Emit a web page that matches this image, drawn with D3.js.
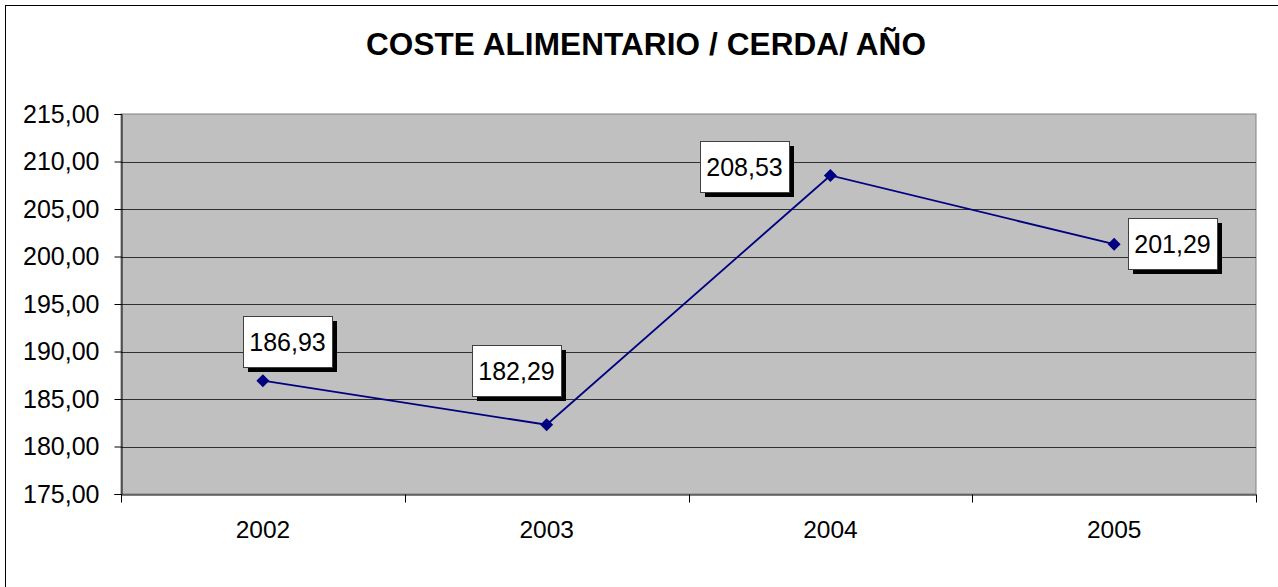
<!DOCTYPE html>
<html lang="es">
<head>
    <meta charset="UTF-8">
    <title>Coste alimentario / cerda / año</title>
    <script src="https://d3js.org/d3.v7.min.js"></script>
    <style>
        body { margin: 0; background: #fff; }
        svg { display: block; font-family: Arial, "Liberation Sans", sans-serif; }
    </style>
</head>
<body>
    <div id="chart"></div>
    <script>
        // Data
        const years = ["2002", "2003", "2004", "2005"];
        const costs = [186.93, 182.29, 208.53, 201.29];
        const yTicks = [175, 180, 185, 190, 195, 200, 205, 210, 215];

        // manual label placement (offset of box centre from point)
        const labelOffsets = [[25, -39], [-30, -54], [-86, -9], [58, -1]];

        const width = 1278, height = 587;
        const plot = { left: 121, top: 114, right: 1256, bottom: 494 };

        const fmt = v => v.toFixed(2).replace(".", ",");

        const svg = d3.select("#chart").append("svg")
            .attr("width", width)
            .attr("height", height);

        // outer frame (right/bottom fall outside the view)
        svg.append("rect")
            .attr("x", 5.5).attr("y", 5.5)
            .attr("width", 1290).attr("height", 600)
            .attr("fill", "#fff").attr("stroke", "#000");

        svg.append("text")
            .attr("x", 646).attr("y", 55)
            .attr("text-anchor", "middle")
            .style("font-size", "31.5px")
            .style("font-weight", "bold")
            .style("letter-spacing", "0.1px")
            .text("COSTE ALIMENTARIO / CERDA/ AÑO");

        const x = d3.scaleBand().domain(years).range([plot.left, plot.right]);
        const y = d3.scaleLinear().domain([175, 215]).range([plot.bottom, plot.top]);

        // plot background
        svg.append("rect")
            .attr("x", plot.left).attr("y", plot.top)
            .attr("width", plot.right - plot.left).attr("height", plot.bottom - plot.top)
            .attr("fill", "#c0c0c0").attr("stroke", "#808080");

        // gridlines
        svg.append("g").selectAll("line")
            .data(yTicks.slice(1, -1))
            .join("line")
            .attr("x1", plot.left).attr("x2", plot.right)
            .attr("y1", d => Math.round(y(d)) + 0.5).attr("y2", d => Math.round(y(d)) + 0.5)
            .attr("stroke", "#303030");

        // y axis
        const yAxis = svg.append("g")
            .attr("transform", `translate(${plot.left + 0.5},0)`)
            .call(d3.axisLeft(y).tickValues(yTicks).tickFormat(fmt).tickSize(7).tickPadding(15));
        yAxis.select(".domain").attr("stroke", "#000");
        yAxis.selectAll("line").attr("stroke", "#000");
        yAxis.selectAll("text").style("font-size", "25px").attr("fill", "#000");

        // x axis: ticks at category boundaries
        const xAxis = svg.append("g")
            .attr("transform", `translate(0,${plot.bottom + 0.5})`)
            .call(d3.axisBottom(x).tickSize(0).tickPadding(26));
        xAxis.select(".domain").attr("stroke", "#000");
        xAxis.selectAll("text").style("font-size", "24.5px").attr("fill", "#000");
        const bounds = years.map(d => x(d)).concat([x(years[years.length - 1]) + x.bandwidth()]);
        xAxis.selectAll(".bound").data(bounds).join("line")
            .attr("class", "bound")
            .attr("x1", d => Math.round(d) + 0.5).attr("x2", d => Math.round(d) + 0.5)
            .attr("y1", 0).attr("y2", 8)
            .attr("stroke", "#000");

        const cx = d => x(d) + x.bandwidth() / 2;
        const pts = years.map((d, i) => ({ year: d, value: costs[i], off: labelOffsets[i] }));

        // line
        svg.append("path")
            .datum(pts)
            .attr("fill", "none")
            .attr("stroke", "#000080")
            .attr("stroke-width", 1.8)
            .attr("d", d3.line().x(d => cx(d.year)).y(d => y(d.value)));

        // markers
        svg.append("g").selectAll("path")
            .data(pts)
            .join("path")
            .attr("transform", d => `translate(${cx(d.year)},${y(d.value)})`)
            .attr("d", "M0,-6.5L6.5,0L0,6.5L-6.5,0Z")
            .attr("fill", "#000080");

        // data labels with drop shadow
        const bw = 89, bh = 51;
        const lab = svg.append("g").selectAll("g")
            .data(pts)
            .join("g")
            .attr("transform", d => `translate(${Math.round(cx(d.year) + d.off[0] - bw / 2)},${Math.round(y(d.value) + d.off[1] - bh / 2)})`);
        lab.append("rect")
            .attr("x", 5).attr("y", 5)
            .attr("width", bw).attr("height", bh)
            .attr("fill", "#000");
        lab.append("rect")
            .attr("x", 0.5).attr("y", 0.5)
            .attr("width", bw).attr("height", bh)
            .attr("fill", "#fff").attr("stroke", "#404040");
        lab.append("text")
            .attr("x", bw / 2).attr("y", bh / 2)
            .attr("dy", "0.36em")
            .attr("text-anchor", "middle")
            .style("font-size", "25px")
            .text(d => fmt(d.value));
    </script>
</body>
</html>
